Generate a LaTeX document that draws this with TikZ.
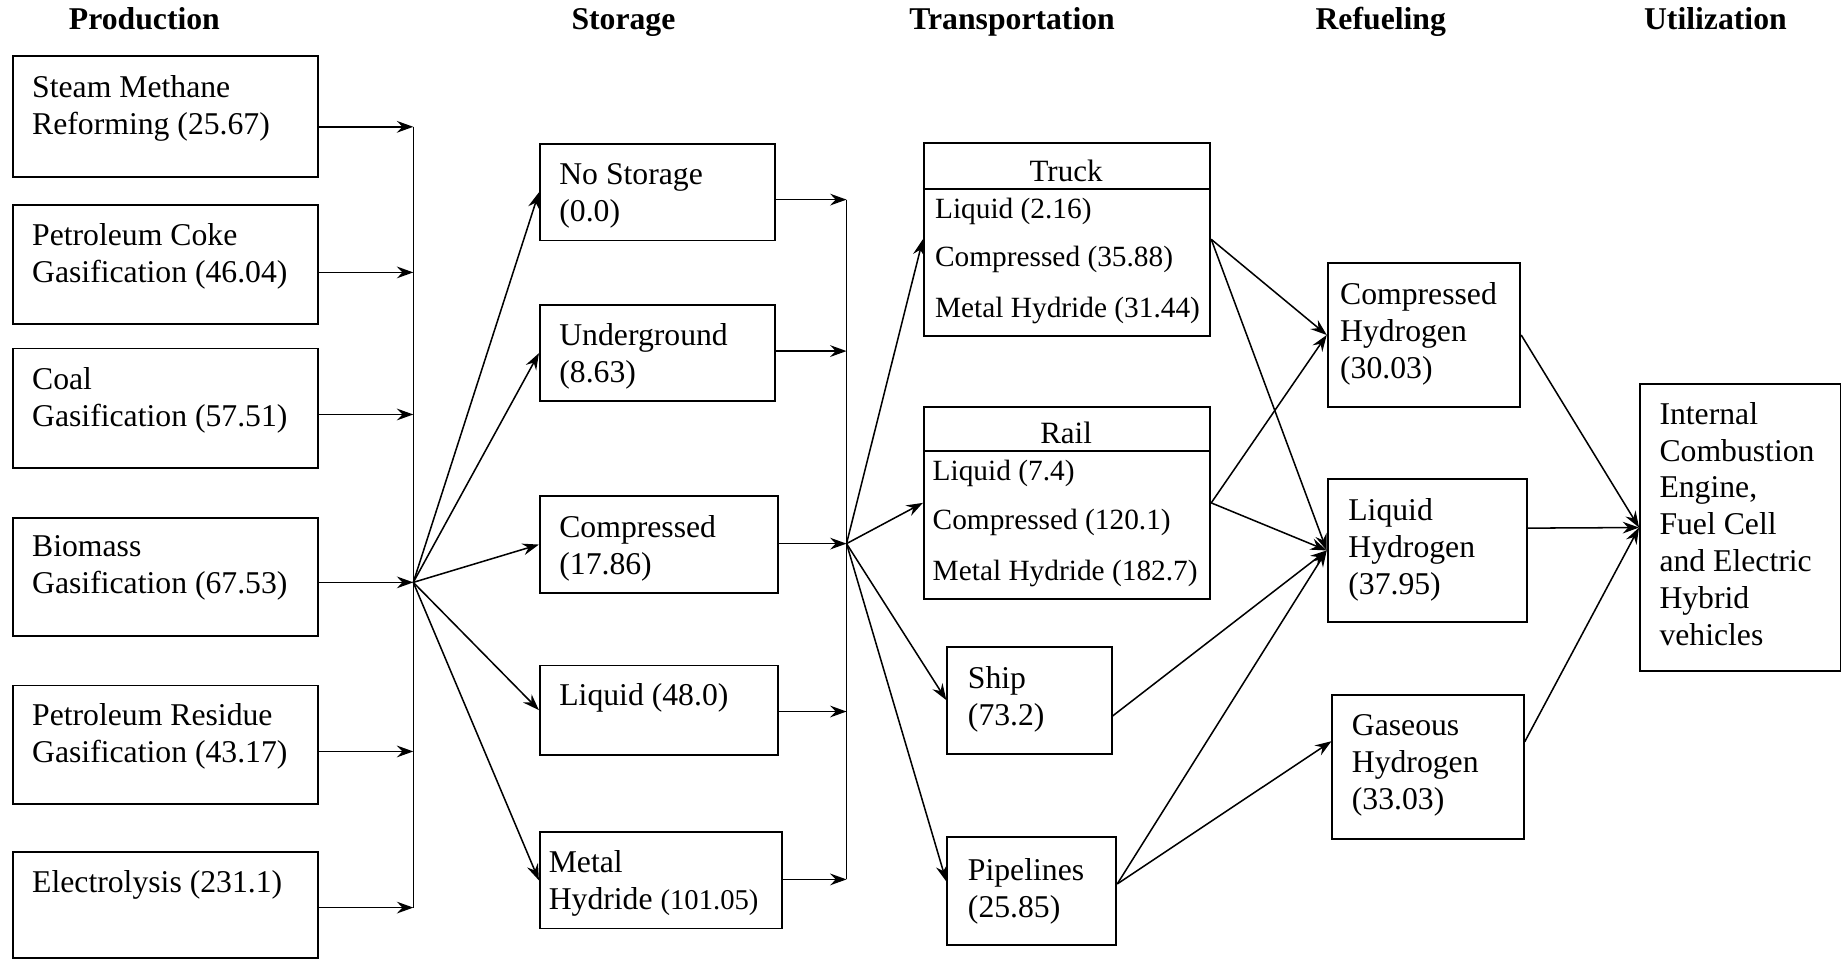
\documentclass[tikz,border=0pt]{standalone}
\usepackage{fontspec}
\setmainfont{Liberation Serif}
\usetikzlibrary{arrows.meta}
\newcommand{\mkbox}[5]{\node[box,minimum width={(#4-#2)*0.5pt},minimum height={(#5-#3)*0.5pt},anchor=north west] (#1) at (#2,#3) {};}
\begin{document}
\begin{tikzpicture}[x=0.5pt,y=-0.5pt,
 box/.style={draw, line width=0.8pt, inner sep=0pt, rectangle},
 txt/.style={inner sep=0pt, anchor=north west, align=left, font=\fontsize{13.5}{15.75}\selectfont},
 itm/.style={inner sep=0pt, anchor=base west, font=\fontsize{12.5}{15}\selectfont},
 hdr/.style={inner sep=0pt, anchor=base, font=\fontsize{13.2}{15}\selectfont},
 ttl/.style={inner sep=0pt, anchor=base, font=\fontsize{13.5}{16}\selectfont\bfseries},
 ln/.style={line width=0.65pt},
 arr/.style={ln, -{Stealth[length=7pt,width=5pt,inset=2.4pt]}}]
\useasboundingbox (0,0) rectangle (1568,816);

% titles
\node[ttl] (h1) at (123,25) {Production};
\node[ttl] (h2) at (531,25) {Storage};
\node[ttl] (h3) at (862,25) {Transportation};
\node[ttl] (h4) at (1176,25) {Refueling};
\node[ttl] (h5) at (1461,25) {Utilization};

% production
\mkbox{steam}{10}{47}{270}{150}
\mkbox{coke}{10}{174}{270}{275}
\mkbox{coal}{10}{296}{270}{398}
\mkbox{bio}{10}{440}{270}{541}
\mkbox{resid}{10}{583}{270}{684}
\mkbox{elec}{10}{725}{270}{815}
\node[txt] (tsteam) at (27,64) {Steam Methane\\Reforming (25.67)};
\node[txt] (tcoke) at (27,190) {Petroleum Coke\\Gasification (46.04)};
\node[txt] (tcoal) at (27,313) {Coal\\Gasification (57.51)};
\node[txt] (tbio) at (27,456) {Biomass\\Gasification (67.53)};
\node[txt] (tresid) at (27,599) {Petroleum Residue\\Gasification (43.17)};
\node[txt] (telec) at (27,741) {Electrolysis (231.1)};

% storage
\mkbox{nost}{459}{122}{659}{204}
\mkbox{under}{459}{259}{659}{341}
\mkbox{comp}{459}{422}{662}{504}
\mkbox{liq}{459}{566}{662}{642}
\mkbox{metal}{459}{708}{665}{790}
\node[txt] (tnost) at (476,139) {No Storage\\(0.0)};
\node[txt] (tunder) at (476,275) {Underground\\(8.63)};
\node[txt] (tcomp) at (476,439) {Compressed\\(17.86)};
\node[txt] (tliq) at (476,582) {Liquid (48.0)};
\node[txt] (tmetal) at (467,724) {Metal\\Hydride {\fontsize{12.2}{15}\selectfont(101.05)}};

% transportation
\mkbox{truck}{786}{121}{1030}{285}
\mkbox{rail}{786}{346}{1030}{509}
\mkbox{ship}{806}{550}{946}{641}
\mkbox{pipe}{806}{712}{950}{804}
\draw[box] ([yshift=-20pt]truck.north west) -- ([yshift=-20pt]truck.north east);
\draw[box] ([yshift=-19pt]rail.north west) -- ([yshift=-19pt]rail.north east);
\node[hdr] (ttruck) at (908,155) {Truck};
\node[itm] (tr1) at (796,186) {Liquid (2.16)};
\node[itm] (tr2) at (796,227) {Compressed (35.88)};
\node[itm] (tr3) at (796,270) {Metal Hydride (31.44)};
\node[hdr] (trail) at (908,378) {Rail};
\node[itm] (ra1) at (794,409) {Liquid (7.4)};
\node[itm] (ra2) at (794,451) {Compressed (120.1)};
\node[itm] (ra3) at (794,494) {Metal Hydride (182.7)};
\node[txt] (tship) at (824,567) {Ship\\(73.2)};
\node[txt] (tpipe) at (824,731) {Pipelines\\(25.85)};

% refueling
\mkbox{ch}{1130}{223}{1294}{346}
\mkbox{lh}{1130}{407}{1300}{529}
\mkbox{gh}{1134}{591}{1297}{714}
\node[txt] (tch) at (1141,240) {Compressed\\Hydrogen\\(30.03)};
\node[txt] (tlh) at (1148,424) {Liquid\\Hydrogen\\(37.95)};
\node[txt] (tgh) at (1151,608) {Gaseous\\Hydrogen\\(33.03)};

% utilization
\mkbox{util}{1396}{326}{1567}{571}
\node[txt] (tutil) at (1413,342) {Internal\\Combustion\\Engine,\\Fuel Cell\\and Electric\\Hybrid\\vehicles};

% bus 1
\coordinate (p1) at (352,108);
\coordinate (p2) at (352,232);
\coordinate (p3) at (352,353);
\coordinate (p4) at (352,496);
\coordinate (p5) at (352,640);
\coordinate (p6) at (352,773);
\draw[arr] (steam.east |- p1) -- (p1);
\draw[arr] (coke.east |- p2) -- (p2);
\draw[arr] (coal.east |- p3) -- (p3);
\draw[arr] (bio.east |- p4) -- (p4);
\draw[arr] (resid.east |- p5) -- (p5);
\draw[arr] (elec.east |- p6) -- (p6);
\draw[ln] (p1) -- (p6);
\draw[arr] (p4) -- (nost.west);
\draw[arr] (p4) -- (under.west);
\draw[arr] (p4) -- (comp.west);
\draw[arr] (p4) -- (liq.west);
\draw[arr] (p4) -- (metal.west);

% bus 2
\coordinate (q1) at (721,170);
\coordinate (q2) at (721,299);
\coordinate (q3) at (721,463);
\coordinate (q4) at (721,606);
\coordinate (q5) at (721,749);
\draw[arr] (nost.east |- q1) -- (q1);
\draw[arr] (under.east |- q2) -- (q2);
\draw[arr] (comp.east |- q3) -- (q3);
\draw[arr] (liq.east |- q4) -- (q4);
\draw[arr] (metal.east |- q5) -- (q5);
\draw[ln] (q1) -- (q5);
\draw[arr] (q3) -- (truck.west);
\draw[arr] (q3) -- (rail.west);
\draw[arr] (q3) -- (ship.west);
\draw[arr] (q3) -- ([yshift=4pt]pipe.west);

% transport -> refueling
\draw[arr] (truck.east) -- (ch.west);
\draw[arr] (truck.east) -- (lh.west);
\draw[arr] (rail.east) -- (ch.west);
\draw[arr] (rail.east) -- (lh.west);
\draw[arr] ([yshift=-6.75pt]ship.east) -- (lh.west);
\draw[arr] ([yshift=3pt]pipe.east) -- (lh.west);
\draw[arr] ([yshift=3pt]pipe.east) -- ([yshift=11pt]gh.west);

% refueling -> utilization
\draw[arr] (ch.east) -- (util.west);
\draw[arr] ([yshift=9.5pt]lh.east) -- (util.west);
\draw[arr] ([yshift=10.75pt]gh.east) -- (util.west);
\end{tikzpicture}
\end{document}
